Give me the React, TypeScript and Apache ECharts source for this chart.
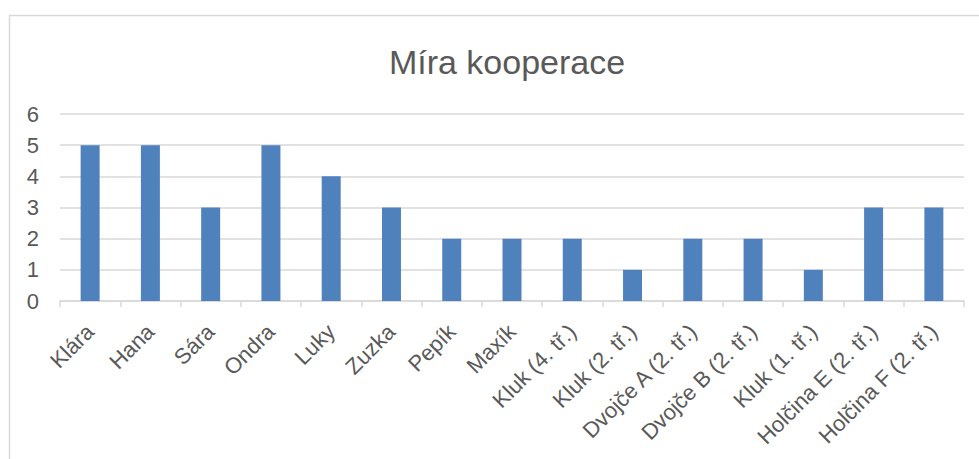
import React, { useEffect, useRef } from "react";
import * as echarts from "echarts";

const title = "Míra kooperace";
const categories = [
  "Klára", "Hana", "Sára", "Ondra", "Luky", "Zuzka", "Pepík", "Maxík",
  "Kluk (4. tř.)", "Kluk (2. tř.)", "Dvojče A (2. tř.)", "Dvojče B (2. tř.)",
  "Kluk (1. tř.)", "Holčina E (2. tř.)", "Holčina F (2. tř.)",
];
const values = [5, 5, 3, 5, 4, 3, 2, 2, 2, 1, 2, 2, 1, 3, 3];

export default function App() {
  const ref = useRef<HTMLDivElement>(null);
  useEffect(() => {
    if (!ref.current) return;
    const chart = echarts.init(ref.current, undefined, { renderer: "svg" });
    const font = "'Liberation Sans', 'Noto Sans', sans-serif";
    chart.setOption({
      animation: false,
      backgroundColor: "#ffffff",
      textStyle: { fontFamily: font },
      title: {
        text: title,
        left: 502,
        textAlign: "center",
        top: 40,
        textStyle: { fontSize: 34, fontWeight: "normal", color: "#595959", fontFamily: font },
      },
      graphic: [
        {
          type: "rect",
          shape: { x: 9.5, y: 15.5, width: 1100, height: 600 },
          style: { fill: "none", stroke: "#d9d9d9", lineWidth: 1.5 },
          silent: true,
        },
      ],
      grid: { left: 60, right: 15, top: 114, bottom: 158, containLabel: false },
      xAxis: {
        type: "category",
        data: categories,
        axisLine: { lineStyle: { color: "#d9d9d9", width: 1.5 } },
        axisTick: { show: true, length: 6, lineStyle: { color: "#d9d9d9", width: 1.5 } },
        axisLabel: {
          rotate: 45,
          interval: 0,
          fontSize: 22,
          color: "#595959",
          margin: 27,
          fontFamily: font,
        },
      },
      yAxis: {
        type: "value",
        min: 0,
        max: 6,
        interval: 1,
        axisLine: { show: false },
        axisTick: { show: false },
        splitLine: { lineStyle: { color: "#d9d9d9", width: 1.5 } },
        axisLabel: { fontSize: 22, color: "#595959", margin: 21, fontFamily: font },
      },
      series: [
        {
          type: "bar",
          data: values,
          barWidth: "31.5%",
          itemStyle: { color: "#4f81bd" },
        },
      ],
    });
    return () => chart.dispose();
  }, []);
  return (
    <div
      ref={ref}
      style={{ position: "fixed", left: 0, top: 0, width: 979, height: 459 }}
    />
  );
}
